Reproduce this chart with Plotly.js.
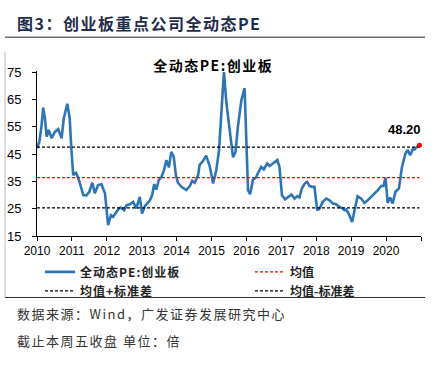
<!DOCTYPE html>
<html>
<head>
<meta charset="utf-8">
<script src="https://cdn.plot.ly/plotly-3.0.1.min.js"></script>
<style>
html,body{margin:0;padding:0;background:#fff;}
#chart{width:447px;height:367px;}
.gtitle{letter-spacing:1.5px;}
.annotation[data-index="0"] .annotation-text{letter-spacing:1.5px;}
.annotation[data-index="2"] .annotation-text,.annotation[data-index="3"] .annotation-text{letter-spacing:1.5px;}
.legendtext{letter-spacing:1px;}
</style>
</head>
<body>
<div id="chart"></div>
<script>
// ---- data ----
const dates = [
"2010-01-01","2010-01-26","2010-02-16","2010-03-07","2010-03-25","2010-04-12","2010-05-04","2010-06-02","2010-07-09","2010-08-11","2010-09-16","2010-10-08","2010-11-14","2010-12-09","2010-12-27",
"2011-01-15","2011-02-13","2011-03-07","2011-04-01","2011-04-30","2011-06-02","2011-07-02","2011-08-03","2011-08-29","2011-10-01","2011-11-06","2011-12-13","2011-12-27",
"2012-01-15","2012-02-13","2012-03-06","2012-03-31","2012-04-29","2012-05-25","2012-07-01","2012-07-26","2012-08-28","2012-10-03","2012-11-05","2012-12-12",
"2013-01-04","2013-02-02","2013-03-03","2013-03-25","2013-04-20","2013-05-11","2013-06-02","2013-06-28","2013-07-27","2013-08-22","2013-09-16","2013-10-12","2013-11-06","2013-12-02","2013-12-24",
"2014-01-15","2014-02-20","2014-04-12","2014-05-19","2014-06-13","2014-07-09","2014-08-14","2014-08-29","2014-10-04","2014-11-06","2014-12-13",
"2015-01-18","2015-02-20","2015-03-21","2015-04-12","2015-05-11","2015-06-06","2015-07-09","2015-08-14","2015-09-09","2015-10-04","2015-11-10","2015-12-13",
"2016-01-18","2016-02-09","2016-03-09","2016-04-11","2016-04-29","2016-06-05","2016-07-01","2016-08-06","2016-09-01","2016-10-03","2016-11-20","2016-12-12",
"2017-01-07","2017-02-09","2017-03-10","2017-04-16","2017-05-19","2017-06-17","2017-07-09","2017-08-03","2017-09-02","2017-09-27","2017-10-23","2017-11-17","2017-12-13",
"2018-01-11","2018-02-06","2018-03-10","2018-04-16","2018-05-19","2018-06-24","2018-07-27","2018-09-02","2018-10-01","2018-10-23","2018-11-10","2018-12-09",
"2019-01-11","2019-02-06","2019-03-10","2019-04-16","2019-05-19","2019-06-24","2019-07-31","2019-09-02","2019-10-08","2019-11-10","2019-12-05","2019-12-27",
"2020-01-18","2020-02-13","2020-03-10","2020-04-09","2020-05-15","2020-06-16","2020-07-23","2020-08-14","2020-09-09","2020-10-12","2020-10-26","2020-11-20","2020-12-16"
];
const pe = [
47.1,49.5,55.0,62.0,58.1,51.4,53.8,50.8,53.2,54.1,50.8,58.1,63.4,58.1,46.5,
37.3,38.1,36.4,33.6,30.0,29.9,31.2,34.5,30.6,33.6,34.0,30.6,26.0,
19.0,22.6,22.0,23.2,24.7,25.4,24.4,26.3,26.6,27.5,25.1,29.3,
23.2,25.9,27.1,27.9,29.9,34.0,32.0,35.5,36.7,39.1,42.8,40.1,45.8,44.0,37.3,
34.5,33.0,31.8,33.3,35.2,34.5,37.3,41.0,42.5,44.4,40.6,
34.2,39.1,46.5,60.0,75.0,63.6,53.8,43.8,45.8,55.0,64.8,69.1,
31.8,30.3,35.5,36.4,37.9,40.3,39.4,41.6,40.6,41.6,42.8,40.3,
29.9,28.4,29.3,30.2,28.7,29.6,29.1,32.4,34.2,34.8,33.3,33.0,33.0,
24.4,25.1,27.5,28.7,28.1,26.9,26.6,25.6,25.1,24.4,24.7,23.0,
20.1,24.4,29.6,28.7,27.1,28.1,29.3,30.6,31.8,33.3,33.3,36.4,
27.1,29.1,26.9,31.2,32.4,40.3,45.3,46.5,44.6,47.1,46.7,47.7,48.2
];
const meanValue = 36.4;
const upperValue = 47.5;   // 均值+标准差
const lowerValue = 25.3;   // 均值-标准差
const seriesNames = ["全动态PE:创业板", "均值", "均值+标准差", "均值-标准差"];
const yearTicks = ["2010-01-01","2011-01-01","2012-01-01","2013-01-01","2014-01-01","2015-01-01","2016-01-01","2017-01-01","2018-01-01","2019-01-01","2020-01-01","2021-01-01"];
const yearLabels = ["2010","2011","2012","2013","2014","2015","2016","2017","2018","2019","2020",""];
const yTicks = [15,25,35,45,55,65,75];
const chartTitle = "图3：创业板重点公司全动态PE";
const innerTitle = "全动态PE:创业板";
const sourceNote = "数据来源：Wind，广发证券发展研究中心";
const unitNote = "截止本周五收盘 单位：倍";

// ---- layout geometry ----
const W = 447, H = 367;
const yMin = 15, yMax = 75.4;
const M = {l: 37, r: 26, t: 71.2, b: 131.3};
const pw = W - M.l - M.r, ph = H - M.t - M.b;
const px2x = p => (p - M.l) / pw;
const px2y = p => (H - M.b - p) / ph;

const CJK = '"Noto Sans CJK SC", "Liberation Sans", sans-serif';
const LAT = '"Liberation Sans", Arial, sans-serif';

const xStart = dates[0], xEnd = dates[dates.length - 1];
const lastVal = pe[pe.length - 1];

const traces = [
  {x: dates, y: pe, type: 'scatter', mode: 'lines', name: seriesNames[0],
   line: {color: '#2E75B6', width: 2.6}, legend: 'legend'},
  {x: [xStart, xEnd], y: [meanValue, meanValue], type: 'scatter', mode: 'lines', name: seriesNames[1],
   line: {color: '#ff0000', width: 1.2, dash: '3px,2px'}, legend: 'legend2'},
  {x: [xStart, xEnd], y: [upperValue, upperValue], type: 'scatter', mode: 'lines', name: seriesNames[2],
   line: {color: '#000000', width: 1.2, dash: '3px,2px'}, legend: 'legend'},
  {x: [xStart, xEnd], y: [lowerValue, lowerValue], type: 'scatter', mode: 'lines', name: seriesNames[3],
   line: {color: '#000000', width: 1.2, dash: '3px,2px'}, legend: 'legend2'},
  {x: [xEnd], y: [lastVal], type: 'scatter', mode: 'markers', showlegend: false,
   marker: {color: '#ff0000', size: 5, line: {color: '#ff4040', width: 0}}, cliponaxis: false}
];

const legendCommon = {
  orientation: 'v', xanchor: 'left', yanchor: 'top', bgcolor: 'rgba(0,0,0,0)',
  font: {family: CJK, size: 12, color: '#222', weight: 'bold'}, tracegroupgap: 0, itemwidth: 30
};

const layout = {
  width: W, height: H,
  margin: M,
  paper_bgcolor: '#fff', plot_bgcolor: '#fff',
  showlegend: true,
  title: {text: chartTitle, xref: 'container', yref: 'container', x: 17 / W, xanchor: 'left',
          y: 1 - 24 / H, yanchor: 'middle',
          font: {family: CJK, size: 16, weight: 'bold', color: '#1f2d4d'}},
  xaxis: {type: 'date', range: ['2010-01-01', '2021-01-01'], tickmode: 'array',
          tickvals: yearTicks, ticktext: yearLabels, ticks: 'outside', ticklen: 4, tickcolor: '#000',
          showline: true, linecolor: '#000', linewidth: 1, showgrid: false, zeroline: false,
          tickfont: {family: LAT, size: 12, color: '#000'}, fixedrange: true},
  yaxis: {range: [yMin, yMax], tickmode: 'array', tickvals: yTicks, ticks: 'outside', ticklen: 4,
          tickcolor: '#000', showline: true, linecolor: '#000', linewidth: 1, showgrid: false,
          zeroline: false, ticklabelstandoff: 8,
          tickfont: {family: LAT, size: 13, color: '#000'}, fixedrange: true},
  legend: Object.assign({}, legendCommon, {x: px2x(40), y: px2y(257)}),
  legend2: Object.assign({}, legendCommon, {x: px2x(250), y: px2y(257)}),
  annotations: [
    {text: innerTitle, xref: 'paper', yref: 'paper', x: px2x(213), y: px2y(65), showarrow: false,
     xanchor: 'center', yanchor: 'middle', font: {family: CJK, size: 14, weight: 'bold', color: '#000'}},
    {text: lastVal.toFixed(2), xref: 'x', yref: 'y', x: xEnd, y: lastVal, showarrow: false,
     xanchor: 'center', yanchor: 'middle', xshift: -15, yshift: 16,
     font: {family: LAT, size: 13, weight: 'bold', color: '#000'}},
    {text: sourceNote, xref: 'paper', yref: 'paper', x: px2x(15), y: px2y(313), showarrow: false,
     xanchor: 'left', yanchor: 'middle', align: 'left', font: {family: CJK, size: 13, color: '#333'}},
    {text: unitNote, xref: 'paper', yref: 'paper', x: px2x(15), y: px2y(340), showarrow: false,
     xanchor: 'left', yanchor: 'middle', align: 'left', font: {family: CJK, size: 13, color: '#333'}}
  ],
  shapes: [
    {type: 'line', xref: 'paper', yref: 'paper', x0: px2x(5), x1: px2x(425), y0: px2y(37.5), y1: px2y(37.5),
     line: {color: '#222', width: 1}},
    {type: 'line', xref: 'paper', yref: 'paper', x0: px2x(5), x1: px2x(5), y0: px2y(52), y1: px2y(297),
     line: {color: '#bbbbbb', width: 1}},
    {type: 'line', xref: 'paper', yref: 'paper', x0: px2x(5), x1: px2x(425), y0: px2y(297), y1: px2y(297),
     line: {color: '#333', width: 1}}
  ]
};

Plotly.newPlot('chart', traces, layout, {displayModeBar: false, staticPlot: true});
</script>
</body>
</html>
